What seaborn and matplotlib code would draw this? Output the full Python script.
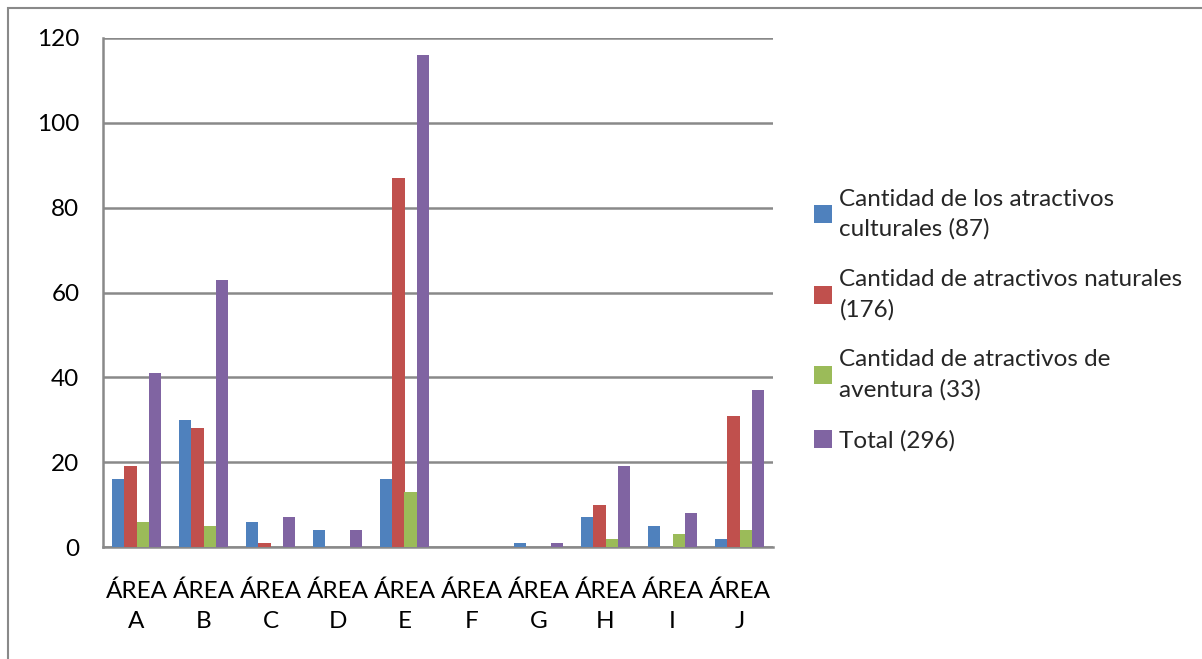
import matplotlib
matplotlib.use("Agg")
import matplotlib.pyplot as plt
import matplotlib.patches as mpatches
import seaborn as sns
import pandas as pd

categories = ["ÁREA\nA", "ÁREA\nB", "ÁREA\nC", "ÁREA\nD", "ÁREA\nE",
              "ÁREA\nF", "ÁREA\nG", "ÁREA\nH", "ÁREA\nI", "ÁREA\nJ"]
culturales = [16, 30, 6, 4, 16, 0, 1, 7, 5, 2]
naturales = [19, 28, 1, 0, 87, 0, 0, 10, 0, 31]
aventura = [6, 5, 0, 0, 13, 0, 0, 2, 3, 4]
total = [41, 63, 7, 4, 116, 0, 1, 19, 8, 37]
series_names = ["Cantidad de los atractivos\nculturales (87)",
                "Cantidad de atractivos naturales\n(176)",
                "Cantidad de atractivos de\naventura (33)",
                "Total (296)"]
colors = ["#4F81BD", "#C0504D", "#9BBB59", "#8064A2"]

rows = []
for name, vals in zip(series_names, [culturales, naturales, aventura, total]):
    for c, v in zip(categories, vals):
        rows.append({"Área": c, "Serie": name, "Valor": v})
df = pd.DataFrame(rows)

sns.set_style("white")
plt.rcParams["font.family"] = ["Lato", "DejaVu Sans"]

fig = plt.figure(figsize=(12.02, 6.59), dpi=100)
ax = fig.add_axes([103 / 1202, 1 - 547 / 659, 670 / 1202, (547 - 38) / 659])

sns.barplot(data=df, x="Área", y="Valor", hue="Serie", palette=colors,
            width=0.73, saturation=1, ax=ax, legend=True, zorder=3,
            linewidth=0, edgecolor="none")

ax.set_ylim(0, 120)
ax.set_xlim(-0.5, 9.5)
ax.set_yticks(range(0, 121, 20))
ax.yaxis.grid(True, color="#898989", linewidth=1.8, zorder=0)
ax.set_axisbelow(True)
ax.set_xlabel("")
ax.set_ylabel("")
for s in ["top", "right"]:
    ax.spines[s].set_visible(False)
for s in ["left", "bottom"]:
    ax.spines[s].set_color("#898989")
    ax.spines[s].set_linewidth(1.8)
ax.tick_params(axis="y", labelsize=17.5, colors="black", length=0, pad=17)
ax.tick_params(axis="x", labelsize=17.5, colors="black", length=0, pad=24)
for lab in ax.get_xticklabels():
    lab.set_linespacing(1.55)

handles, labels = ax.get_legend_handles_labels()
ax.get_legend().remove()
leg = fig.legend(handles, labels, loc="center left",
                 bbox_to_anchor=(792 / 1202, 1 - 320 / 659), frameon=False,
                 fontsize=17.5, handlelength=0.75, handleheight=0.75,
                 handletextpad=0.3, labelspacing=1.2)
for t in leg.get_texts():
    t.set_linespacing(1.5)

border = mpatches.Rectangle((8 / 1202, -0.2), 2.0, 1 - 8 / 659 + 0.2,
                            transform=fig.transFigure, fill=False,
                            edgecolor="#898989", linewidth=1.5)
fig.patches.append(border)

fig.savefig("out.png", dpi=100)
